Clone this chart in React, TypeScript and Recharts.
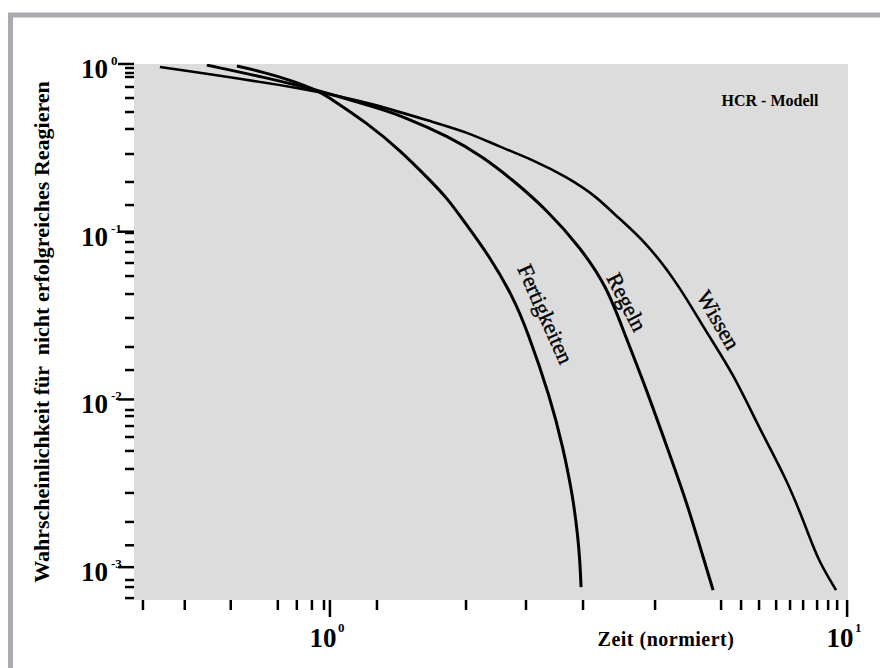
import { ComposedChart, Line, XAxis, YAxis, CartesianGrid, ReferenceDot } from "recharts";

const SERIF = "'Liberation Serif', 'Times New Roman', serif";
const PLOT_BG = "#dcdcdc";
const FRAME = "#aaaab0";

// Fertigkeiten (skill based)
const FERT_T = [0.661, 0.742, 0.837, 0.944, 1.013, 1.179, 1.366, 1.561, 1.684, 1.809, 2.04, 2.26, 2.405, 2.665, 2.823, 2.951, 3.017, 3.045, 3.059];
const FERT_P = [0.973, 0.896, 0.803, 0.7, 0.61, 0.445, 0.307, 0.203, 0.159, 0.1174, 0.0707, 0.0408, 0.0259, 0.01033, 0.0052, 0.00262, 0.00151, 0.00106, 0.00076];

// Regeln (rule based)
const REG_T = [0.578, 0.742, 0.944, 1.233, 1.366, 1.706, 1.977, 2.26, 2.629, 3.045, 3.435, 3.688, 4.03, 4.486, 4.903, 5.266, 5.506];
const REG_P = [0.985, 0.837, 0.7, 0.547, 0.496, 0.367, 0.279, 0.203, 0.1347, 0.0811, 0.0468, 0.0259, 0.01305, 0.0052, 0.00241, 0.00115, 0.00073];

// Wissen (knowledge based)
const WIS_T = [0.469, 0.944, 1.233, 1.582, 1.841, 2.133, 2.47, 2.873, 3.284, 3.527, 4.104, 4.753, 5.312, 6.02, 6.788, 7.656, 8.37, 8.79, 9.52];
const WIS_P = [0.96, 0.7, 0.569, 0.451, 0.393, 0.32, 0.268, 0.212, 0.161, 0.129, 0.0857, 0.0468, 0.0259, 0.01436, 0.00657, 0.00331, 0.00166, 0.0011, 0.00073];

const X_TICKS = [0.435, 0.524, 0.643, 0.793, 0.863, 0.923, 0.974, 1, 1.233, 1.833, 2.394, 3.086, 4.253, 5.706, 6.237, 6.757, 7.291, 7.757, 8.222, 8.75, 9.19, 9.566, 10];
const Y_TICKS = [
  1, 0.9466, 0.8838, 0.8366, 0.7294, 0.627, 0.5172, 0.4098, 0.2906, 0.1979, 0.1442,
  0.1, 0.0982, 0.0868, 0.0757, 0.0651, 0.0544, 0.0425, 0.0306, 0.02054, 0.01497,
  0.01, 0.00865, 0.00796, 0.00694, 0.00597, 0.00493, 0.00385, 0.00277, 0.00186, 0.00135,
  0.001, 0.000838, 0.000761, 0.000654,
];

const toRows = (ts: number[], ps: number[]) => ts.map((t, i) => ({ t, p: ps[i] }));
const fert = toRows(FERT_T, FERT_P);
const reg = toRows(REG_T, REG_P);
const wis = toRows(WIS_T, WIS_P);

const CURVE_LABELS = [
  { text: "Fertigkeiten", t: 2.61, p: 0.0323, angle: 66 },
  { text: "Regeln", t: 3.75, p: 0.0381, angle: 63 },
  { text: "Wissen", t: 5.64, p: 0.0298, angle: 60 },
];

function isDecade(v: number) {
  const l = Math.log10(v);
  return Math.abs(l - Math.round(l)) < 1e-6;
}

function YTick({ x, y, payload }: any) {
  const v = payload.value;
  const major = isDecade(v);
  return (
    <g>
      <line x1={x - (major ? 16 : 9)} x2={x} y1={y} y2={y} stroke="#000" strokeWidth={2.5} />
      {major && (
        <text fontFamily={SERIF} fontWeight="bold" fill="#000">
          <tspan x={x - 53} y={y + 14} fontSize={27}>10</tspan>
          <tspan x={x - 23} y={y + 1} fontSize={13}>{Math.round(Math.log10(v))}</tspan>
        </text>
      )}
    </g>
  );
}

function XTick({ x, y, payload }: any) {
  const v = payload.value;
  const major = isDecade(v);
  return (
    <g>
      <line x1={x} x2={x} y1={y} y2={y + (major ? 17 : 10)} stroke="#000" strokeWidth={2.5} />
      {major && (
        <text fontFamily={SERIF} fontWeight="bold" fill="#000">
          <tspan x={x - 7} y={y + 47} fontSize={27} textAnchor="middle">10</tspan>
          <tspan x={x + 8} y={y + 32} fontSize={13}>{Math.round(Math.log10(v))}</tspan>
        </text>
      )}
    </g>
  );
}

function CurveLabel({ cx, cy, text, angle }: any) {
  return (
    <text
      x={cx}
      y={cy}
      transform={`rotate(${angle} ${cx} ${cy})`}
      textAnchor="middle"
      dominantBaseline="central"
      fontFamily={SERIF}
      fontSize={22}
      fill="#000"
      stroke="#000"
      strokeWidth={0.4}
    >
      {text}
    </text>
  );
}

export default function App() {
  return (
    <div style={{ position: "absolute", left: 0, top: 0, width: 880, height: 668, overflow: "hidden", background: "#fff" }}>
      <ComposedChart width={880} height={668} margin={{ top: 64, right: 32, bottom: 8, left: 74 }}>
        <CartesianGrid fill={PLOT_BG} horizontal={false} vertical={false} />
        <XAxis
          dataKey="t"
          type="number"
          scale="log"
          domain={[0.418, 10.04]}
          allowDataOverflow
          ticks={X_TICKS}
          interval={0}
          height={60}
          tickSize={0}
          tickMargin={0}
          axisLine={false}
          tickLine={false}
          tick={<XTick />}
        />
        <YAxis
          dataKey="p"
          type="number"
          scale="log"
          domain={[0.000637, 1]}
          allowDataOverflow
          ticks={Y_TICKS}
          interval={0}
          width={60}
          tickSize={0}
          tickMargin={0}
          axisLine={false}
          tickLine={false}
          tick={<YTick />}
        />
        <Line data={fert} dataKey="p" type="basis" stroke="#000" strokeWidth={3} dot={false} isAnimationActive={false} />
        <Line data={reg} dataKey="p" type="basis" stroke="#000" strokeWidth={3} dot={false} isAnimationActive={false} />
        <Line data={wis} dataKey="p" type="basis" stroke="#000" strokeWidth={2.6} dot={false} isAnimationActive={false} />
        {CURVE_LABELS.map((l) => (
          <ReferenceDot
            key={l.text}
            x={l.t}
            y={l.p}
            r={0}
            ifOverflow="visible"
            shape={(props: any) => <CurveLabel cx={props.cx} cy={props.cy} text={l.text} angle={l.angle} />}
          />
        ))}
      </ComposedChart>

      {/* frame + titles */}
      <svg width={880} height={668} style={{ position: "absolute", left: 0, top: 0, pointerEvents: "none" }}>
        <rect x={10.5} y={15} width={900} height={700} fill="none" stroke={FRAME} strokeWidth={5} />
        <text
          x={49}
          y={332}
          transform="rotate(-90 49 332)"
          textAnchor="middle"
          fontFamily={SERIF}
          fontWeight="bold"
          fontSize={22}
          style={{ whiteSpace: "pre" }}
        >
          Wahrscheinlichkeit für  nicht erfolgreiches Reagieren
        </text>
        <text x={666} y={646} textAnchor="middle" fontFamily={SERIF} fontWeight="bold" fontSize={20} letterSpacing={0.5}>
          Zeit (normiert)
        </text>
        <text x={770} y={106} textAnchor="middle" fontFamily={SERIF} fontWeight="bold" fontSize={16}>
          HCR - Modell
        </text>
      </svg>
    </div>
  );
}
